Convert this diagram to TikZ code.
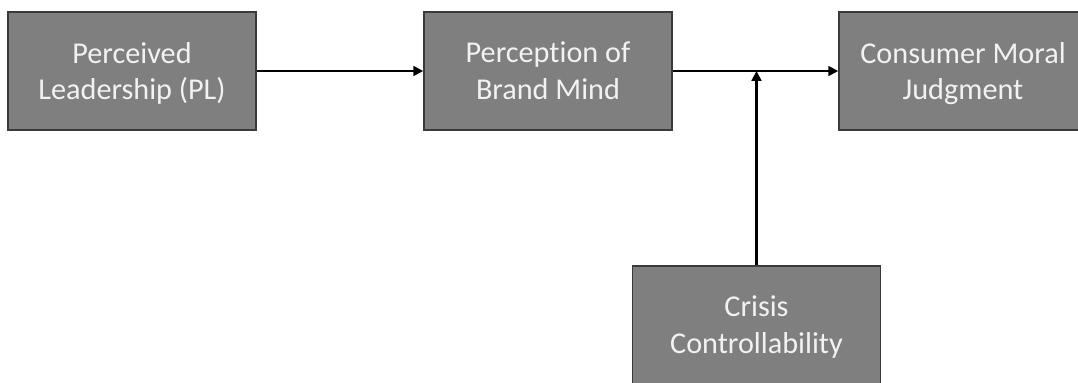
\documentclass[tikz,border=0pt]{standalone}
\usepackage{fontspec}
\setmainfont[Ligatures=NoCommon]{Carlito}
\usetikzlibrary{arrows.meta,positioning}

\definecolor{boxfill}{HTML}{7F7F7F}
\definecolor{boxline}{HTML}{3A3A3A}
\definecolor{boxtext}{HTML}{F2F2F2}

\tikzset{
    factor/.style={draw=boxline,line width=1.1pt,fill=boxfill,
        text=boxtext,minimum width=6.2cm,minimum height=2.95cm,
        align=center,inner sep=0pt,text depth=0pt,
        font=\fontsize{21.5}{26.3}\selectfont},
    link/.style={-{Triangle[length=7pt,width=7pt]},line width=1.5pt,black}
}

\begin{document}
\begin{tikzpicture}[x=0.025cm,y=-0.025cm]
    
            \useasboundingbox (0,0) rectangle (1078,382);
            \clip (0,0) rectangle (1078,382);
            
            \node[factor] (pl)     at (132,71)   {Perceived\\Leadership (PL)};
            \node[factor] (mind)   at (548,71)   {Perception of\\Brand Mind};
            \node[factor] (cmj)    at (963,71)   {Consumer Moral\\Judgment};
            \node[factor] (crisis) at (756.5,325) {Crisis\\Controllability};
            
            \draw[link] (pl) -- (mind);
            \draw[link] (mind) -- (cmj);
            
            \coordinate (meet) at (crisis.north |- mind.east);
            \draw[link] (crisis) -- (meet);
        
        \end{tikzpicture}
\end{document}
